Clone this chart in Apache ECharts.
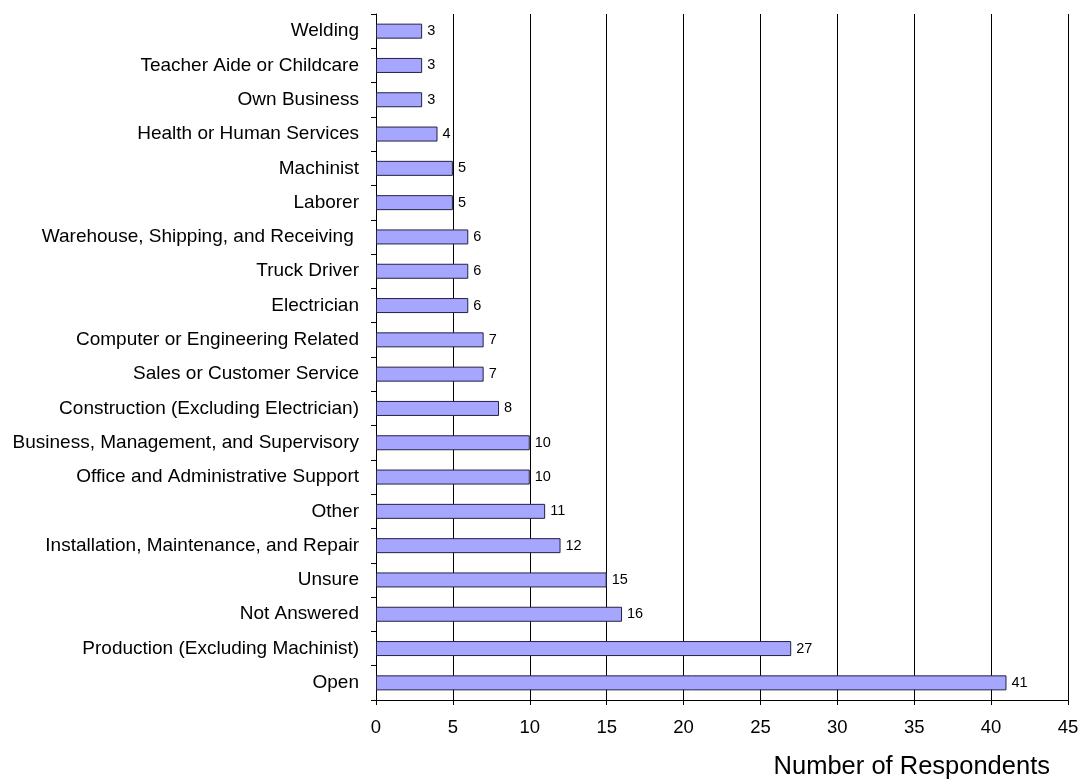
<!DOCTYPE html>
<html>
<head>
<meta charset="utf-8">
<script src="https://cdn.jsdelivr.net/npm/echarts@6/dist/echarts.min.js"></script>
<style>
  html, body { margin: 0; padding: 0; background: #fff; }
  #chart { width: 1083px; height: 784px; }
</style>
</head>
<body>
<div id="chart"></div>
<script>
// Occupations, listed top to bottom
const categories = [
  'Welding',
  'Teacher Aide or Childcare',
  'Own Business',
  'Health or Human Services',
  'Machinist',
  'Laborer',
  'Warehouse, Shipping, and Receiving ',
  'Truck Driver',
  'Electrician',
  'Computer or Engineering Related',
  'Sales or Customer Service',
  'Construction (Excluding Electrician)',
  'Business, Management, and Supervisory',
  'Office and Administrative Support',
  'Other',
  'Installation, Maintenance, and Repair',
  'Unsure',
  'Not Answered',
  'Production (Excluding Machinist)',
  'Open'
];
const respondents = [3, 3, 3, 4, 5, 5, 6, 6, 6, 7, 7, 8, 10, 10, 11, 12, 15, 16, 27, 41];
const axisTitle = 'Number of Respondents';

const chart = echarts.init(document.getElementById('chart'));
const font = 'Liberation Sans, Arial, sans-serif';

chart.setOption({
  animation: false,
  textStyle: { fontFamily: font },
  grid: { left: 376, right: 15, top: 14, bottom: 84, containLabel: false },
  xAxis: {
    type: 'value',
    min: 0,
    max: 45,
    interval: 5,
    axisLine: { show: true, lineStyle: { color: '#000', width: 1 } },
    axisTick: { show: true, inside: false, length: 5, lineStyle: { color: '#000' } },
    axisLabel: { color: '#000', fontSize: 18.5, margin: 18, fontFamily: font },
    splitLine: { show: true, lineStyle: { color: '#000', width: 1 } }
  },
  yAxis: {
    type: 'category',
    inverse: true,
    data: categories,
    axisLine: { show: true, lineStyle: { color: '#000', width: 1 } },
    axisTick: { show: true, inside: false, length: 5, lineStyle: { color: '#000' } },
    axisLabel: { color: '#000', fontSize: 19, margin: 17, fontFamily: font },
    splitLine: { show: false }
  },
  series: [{
    type: 'bar',
    data: respondents,
    barWidth: 15,
    itemStyle: { color: '#A6A6FF', borderColor: '#222244', borderWidth: 1 },
    label: {
      show: true,
      position: 'right',
      distance: 5,
      color: '#000',
      fontSize: 14.5,
      fontFamily: font
    }
  }],
  graphic: [{
    type: 'text',
    right: 33,
    top: 754,
    style: { text: axisTitle, fill: '#000', fontSize: 25.5, fontFamily: font }
  }]
});
</script>
</body>
</html>
